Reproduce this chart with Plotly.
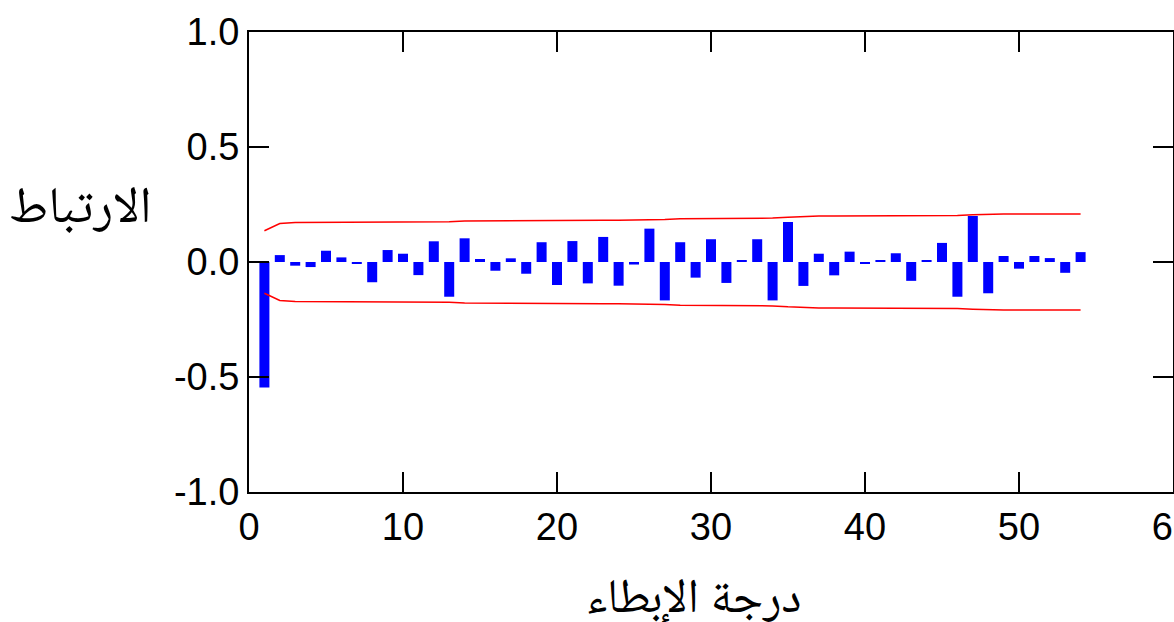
import plotly.graph_objects as go

lags = list(range(1, 55))
acf = [-0.546, 0.030, -0.016, -0.022, 0.049, 0.020, -0.006, -0.088, 0.052, 0.036,
       -0.057, 0.090, -0.151, 0.103, 0.013, -0.038, 0.016, -0.051, 0.086, -0.100,
       0.091, -0.093, 0.109, -0.103, -0.011, 0.145, -0.167, 0.086, -0.068, 0.099,
       -0.091, 0.006, 0.099, -0.167, 0.174, -0.104, 0.036, -0.058, 0.045, -0.008,
       0.008, 0.038, -0.082, 0.006, 0.083, -0.151, 0.200, -0.136, 0.026, -0.029,
       0.026, 0.017, -0.047, 0.043]
band = [0.136, 0.167, 0.172, 0.172, 0.172, 0.173, 0.173, 0.173, 0.174, 0.174,
        0.174, 0.174, 0.175, 0.178, 0.178, 0.178, 0.178, 0.178, 0.179, 0.179,
        0.180, 0.180, 0.181, 0.182, 0.182, 0.182, 0.185, 0.188, 0.188, 0.189,
        0.189, 0.190, 0.190, 0.191, 0.195, 0.199, 0.200, 0.200, 0.200, 0.200,
        0.200, 0.200, 0.201, 0.201, 0.201, 0.202, 0.205, 0.208, 0.209, 0.209,
        0.209, 0.209, 0.209, 0.209]

x_ticks = [0, 10, 20, 30, 40, 50, 60]
x_ticktext = ["0", "10", "20", "30", "40", "50", "60"]
y_ticks = [-1.0, -0.5, 0.0, 0.5, 1.0]
y_ticktext = ["-1.0", "-0.5", "0.0", "0.5", "1.0"]

y_title = "الارتباط"
x_title = "درجة الإبطاء"

fig = go.Figure()
fig.add_trace(go.Bar(x=lags, y=acf, width=0.65, marker=dict(color="#0000ff", line=dict(width=0)),
                     showlegend=False))
fig.add_trace(go.Scatter(x=lags, y=band, mode="lines", line=dict(color="#ff0000", width=1.5),
                         showlegend=False))
fig.add_trace(go.Scatter(x=lags, y=[-v for v in band], mode="lines",
                         line=dict(color="#ff0000", width=1.5), showlegend=False))

tickfont = dict(family="Liberation Sans, Arial, sans-serif", size=38, color="black")
arfamily = "Times New Roman, Noto Naskh Arabic, Amiri, Liberation Serif, DejaVu Sans, serif"

fig.update_layout(
    width=1174, height=622,
    margin=dict(l=249, r=1, t=32, b=130),
    paper_bgcolor="white", plot_bgcolor="white",
    xaxis=dict(range=[0, 60], tickvals=x_ticks, ticktext=x_ticktext, ticks="inside",
               ticklen=20, tickwidth=2, tickcolor="black", showline=True, linecolor="black",
               linewidth=2, mirror="ticks", showgrid=False, zeroline=False, tickfont=tickfont,
               ticklabeloverflow="allow", automargin=False),
    yaxis=dict(range=[-1, 1], tickvals=y_ticks, ticktext=y_ticktext, ticks="inside",
               ticklen=20, tickwidth=2, tickcolor="black", showline=True, linecolor="black",
               linewidth=2, mirror="ticks", showgrid=False, zeroline=False, tickfont=tickfont,
               automargin=False),
    annotations=[
        dict(text=y_title, xref="paper", yref="paper", x=(80 - 249) / 924, y=(492 - 205) / 460,
             xanchor="center", yanchor="middle", showarrow=False,
             font=dict(family=arfamily, size=51, color="black")),
        dict(text=x_title, xref="paper", yref="paper", x=(693 - 249) / 924, y=(492 - 596) / 460,
             xanchor="center", yanchor="middle", showarrow=False,
             font=dict(family=arfamily, size=48, color="black")),
    ],
)

fig.write_html("out.html")
